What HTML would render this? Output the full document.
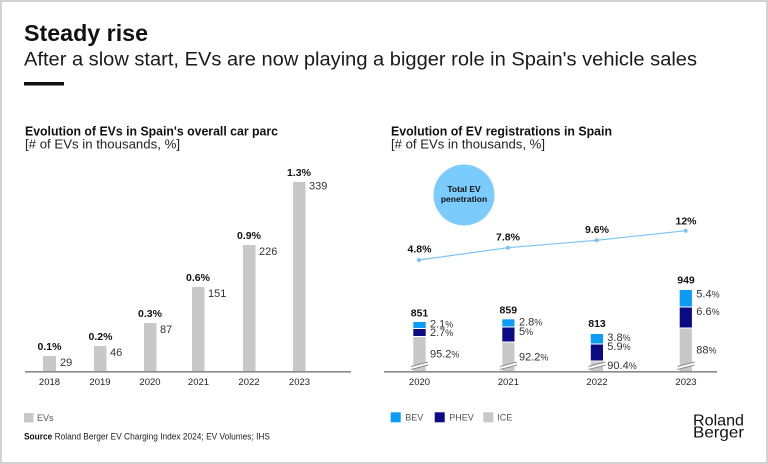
<!DOCTYPE html>
<html><head><meta charset="utf-8"><style>
html,body{margin:0;padding:0;background:#fff;}
svg{display:block;}
text{font-family:"Liberation Sans",Arial,sans-serif;}
</style></head><body>
<svg width="768" height="464" viewBox="0 0 768 464" xmlns="http://www.w3.org/2000/svg">
<rect x="1" y="1" width="766" height="462" fill="#fff" stroke="#d2d2d2" stroke-width="2"/>

<!-- Header -->
<text x="24" y="41" font-size="23" font-weight="bold" fill="#111" textLength="124" lengthAdjust="spacingAndGlyphs">Steady rise</text>
<text x="24" y="65.5" font-size="19" fill="#1a1a1a" textLength="673" lengthAdjust="spacingAndGlyphs">After a slow start, EVs are now playing a bigger role in Spain's vehicle sales</text>
<rect x="24" y="82" width="40" height="3.5" fill="#111"/>

<!-- Left chart titles -->
<text x="25" y="135.5" font-size="12.5" font-weight="bold" fill="#111" textLength="253" lengthAdjust="spacingAndGlyphs">Evolution of EVs in Spain's overall car parc</text>
<text x="25" y="148.5" font-size="13" fill="#222" textLength="155" lengthAdjust="spacingAndGlyphs">[# of EVs in thousands, %]</text>

<!-- Left bars -->
<g fill="#c8c8c8">
<rect x="43" y="356" width="13" height="15.5"/>
<rect x="94" y="346" width="12.5" height="25.5"/>
<rect x="144" y="323" width="12.5" height="48.5"/>
<rect x="192" y="287" width="12.5" height="84.5"/>
<rect x="243" y="245" width="12.5" height="126.5"/>
<rect x="293" y="182" width="12.5" height="189.5"/>
</g>
<line x1="25" y1="371.8" x2="351" y2="371.8" stroke="#8a8a8a" stroke-width="1.6"/>

<g font-size="11" fill="#333">
<text x="60" y="366">29</text>
<text x="110" y="356">46</text>
<text x="160" y="333">87</text>
<text x="208" y="297">151</text>
<text x="259" y="255">226</text>
<text x="309" y="189.5">339</text>
</g>
<g font-size="10.5" font-weight="bold" fill="#111" text-anchor="middle">
<text x="49.5" y="350">0.1%</text>
<text x="100.5" y="340">0.2%</text>
<text x="150" y="317">0.3%</text>
<text x="198" y="281">0.6%</text>
<text x="249" y="239">0.9%</text>
<text x="299" y="176">1.3%</text>
</g>
<g font-size="9.5" fill="#222" text-anchor="middle">
<text x="49.5" y="385">2018</text>
<text x="100" y="385">2019</text>
<text x="150" y="385">2020</text>
<text x="198.5" y="385">2021</text>
<text x="249" y="385">2022</text>
<text x="299.5" y="385">2023</text>
</g>

<!-- Left legend -->
<rect x="24" y="413" width="9.5" height="9.5" fill="#c8c8c8"/>
<text x="37" y="421" font-size="9" fill="#555">EVs</text>
<text x="24" y="439.5" font-size="9" fill="#222" textLength="246" lengthAdjust="spacingAndGlyphs"><tspan font-weight="bold" fill="#111">Source</tspan> Roland Berger EV Charging Index 2024; EV Volumes; IHS</text>

<!-- Right chart titles -->
<text x="391" y="135.5" font-size="12.5" font-weight="bold" fill="#111" textLength="221" lengthAdjust="spacingAndGlyphs">Evolution of EV registrations in Spain</text>
<text x="391" y="148.5" font-size="13" fill="#222" textLength="154" lengthAdjust="spacingAndGlyphs">[# of EVs in thousands, %]</text>

<!-- Circle -->
<circle cx="464" cy="195" r="30.5" fill="#7ccbfd"/>
<text x="464" y="192" font-size="8.5" font-weight="bold" fill="#111" text-anchor="middle">Total EV</text>
<text x="464" y="202" font-size="8.5" font-weight="bold" fill="#111" text-anchor="middle">penetration</text>

<!-- Line -->
<polyline points="419,260 508,247.7 596.7,240.3 685.7,230.7" fill="none" stroke="#7cc3f0" stroke-width="1.2"/>
<g fill="#7cc3f0">
<circle cx="419" cy="260" r="2"/>
<circle cx="508" cy="247.7" r="2"/>
<circle cx="596.7" cy="240.3" r="2"/>
<circle cx="685.7" cy="230.7" r="2"/>
</g>
<g font-size="10.5" font-weight="bold" fill="#111" text-anchor="middle">
<text x="419.5" y="252.5">4.8%</text>
<text x="508" y="240.5">7.8%</text>
<text x="597" y="233">9.6%</text>
<text x="686" y="224.3">12%</text>
</g>

<!-- Stacked bars -->
<g>
<!-- 2020 -->
<rect x="413.3" y="322" width="12.4" height="6" fill="#0b9cf5"/>
<rect x="413.3" y="329" width="12.4" height="7" fill="#0a0a82"/>
<rect x="413.3" y="337" width="12.4" height="34.5" fill="#c8c8c8"/>
<!-- 2021 -->
<rect x="502.3" y="319.3" width="12.2" height="7.2" fill="#0b9cf5"/>
<rect x="502.3" y="327.5" width="12.2" height="14" fill="#0a0a82"/>
<rect x="502.3" y="342.5" width="12.2" height="29" fill="#c8c8c8"/>
<!-- 2022 -->
<rect x="590.8" y="334" width="12.2" height="9.5" fill="#0b9cf5"/>
<rect x="590.8" y="344.5" width="12.2" height="16" fill="#0a0a82"/>
<rect x="590.8" y="361.5" width="12.2" height="10" fill="#c8c8c8"/>
<!-- 2023 -->
<rect x="679.7" y="290" width="12.2" height="16.5" fill="#0b9cf5"/>
<rect x="679.7" y="307.5" width="12.2" height="20" fill="#0a0a82"/>
<rect x="679.7" y="328.5" width="12.2" height="43" fill="#c8c8c8"/>
</g>
<!-- Break marks -->
<g stroke="#8c8c8c" stroke-width="1">
<polygon points="411,366.5 428,362 428,365 411,369.5" fill="#fff" stroke="none"/>
<line x1="411" y1="366.5" x2="428" y2="362"/><line x1="411" y1="369.5" x2="428" y2="365"/>
<polygon points="500,366.5 517,362 517,365 500,369.5" fill="#fff" stroke="none"/>
<line x1="500" y1="366.5" x2="517" y2="362"/><line x1="500" y1="369.5" x2="517" y2="365"/>
<polygon points="588.5,366.5 605.5,362 605.5,365 588.5,369.5" fill="#fff" stroke="none"/>
<line x1="588.5" y1="366.5" x2="605.5" y2="362"/><line x1="588.5" y1="369.5" x2="605.5" y2="365"/>
<polygon points="677.5,366.5 694.5,362 694.5,365 677.5,369.5" fill="#fff" stroke="none"/>
<line x1="677.5" y1="366.5" x2="694.5" y2="362"/><line x1="677.5" y1="369.5" x2="694.5" y2="365"/>
</g>
<line x1="384" y1="371.8" x2="717" y2="371.8" stroke="#8a8a8a" stroke-width="1.6"/>

<g font-size="10.5" font-weight="bold" fill="#111" text-anchor="middle">
<text x="419.5" y="316.7">851</text>
<text x="508.3" y="313.3">859</text>
<text x="597" y="327">813</text>
<text x="686" y="283.3">949</text>
</g>
<g font-size="11" fill="#333">
<text x="430" y="327.7">2.1<tspan font-size="9">%</tspan></text>
<text x="430" y="336">2.7<tspan font-size="9">%</tspan></text>
<text x="430" y="357.7">95.2<tspan font-size="9">%</tspan></text>
<text x="519" y="325.7">2.8<tspan font-size="9">%</tspan></text>
<text x="519" y="335">5<tspan font-size="9">%</tspan></text>
<text x="519" y="360.7">92.2<tspan font-size="9">%</tspan></text>
<text x="607.3" y="341">3.8<tspan font-size="9">%</tspan></text>
<text x="607.3" y="350">5.9<tspan font-size="9">%</tspan></text>
<text x="607.3" y="369">90.4<tspan font-size="9">%</tspan></text>
<text x="696.3" y="297.3">5.4<tspan font-size="9">%</tspan></text>
<text x="696.3" y="315">6.6<tspan font-size="9">%</tspan></text>
<text x="696.3" y="353.3">88<tspan font-size="9">%</tspan></text>
</g>
<g font-size="9.5" fill="#222" text-anchor="middle">
<text x="419.5" y="385">2020</text>
<text x="508.3" y="385">2021</text>
<text x="597" y="385">2022</text>
<text x="686" y="385">2023</text>
</g>

<!-- Right legend -->
<rect x="390.7" y="412.3" width="10" height="10" fill="#0b9cf5"/>
<text x="405.3" y="420.7" font-size="9" fill="#555">BEV</text>
<rect x="434.7" y="412.3" width="10" height="10" fill="#0a0a82"/>
<text x="449.3" y="420.7" font-size="9" fill="#555">PHEV</text>
<rect x="483.3" y="412.3" width="10" height="10" fill="#c8c8c8"/>
<text x="497.3" y="420.7" font-size="9" fill="#555">ICE</text>

<!-- Logo -->
<text x="693" y="425.7" font-size="16" fill="#111" textLength="51" lengthAdjust="spacingAndGlyphs">Roland</text>
<text x="693" y="437.5" font-size="16" fill="#111" textLength="51" lengthAdjust="spacingAndGlyphs">Berger</text>
</svg>
</body></html>
